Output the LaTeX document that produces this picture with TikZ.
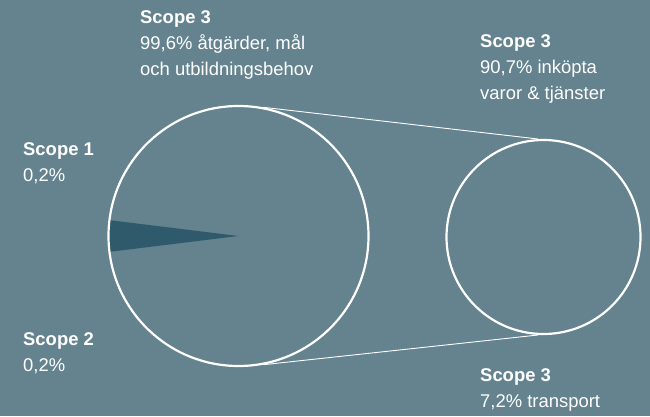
\documentclass[tikz,border=0pt]{standalone}
\usepackage{fontspec}
\setmainfont{Liberation Sans}
\definecolor{bgteal}{HTML}{64838F}
\definecolor{wedgeteal}{HTML}{2E5A6B}
\tikzset{
  label/.style={anchor=base west, align=left, inner sep=0pt, text=white,
    font=\fontsize{18.5}{26}\selectfont},
  ring/.style={draw=white, line width=2.2pt},
  link/.style={draw=white, line width=0.9pt},
}
\begin{document}
\begin{tikzpicture}[x=1bp, y=1bp]
  % canvas
  \fill[bgteal] (0,0) rectangle (650,416);
  \useasboundingbox (0,0) rectangle (650,416);

  % large pie: Scope 1 + 2 slice
  \coordinate (bigc) at (238.5,180);
  \fill[wedgeteal] (bigc) -- ++(173:130) arc[start angle=173, end angle=187, radius=130] -- cycle;
  \node[ring, circle, minimum size=260bp, inner sep=0pt] (big) at (bigc) {};

  % breakdown circle for Scope 3
  \node[ring, circle, minimum size=194bp, inner sep=0pt] (small) at (543.5,179) {};

  % connectors between the two circles
  \draw[link] (big.79.5) -- (small.93);
  \draw[link] (big.-79.5) -- (small.-93);

  % labels (anchored at the baseline of the last line)
  \node[label] (s3main) at (140,341) {\textbf{Scope 3}\\99,6\% åtgärder, mål\\och utbildningsbehov};
  \node[label] (s3buy) at (480,317) {\textbf{Scope 3}\\90,7\% inköpta\\varor \& tjänster};
  \node[label] (s3trans) at (480,9) {\textbf{Scope 3}\\7,2\% transport};
  \node[label] (s1) at (23,235) {\textbf{Scope 1}\\0,2\%};
  \node[label] (s2) at (23,45) {\textbf{Scope 2}\\0,2\%};
\end{tikzpicture}
\end{document}
